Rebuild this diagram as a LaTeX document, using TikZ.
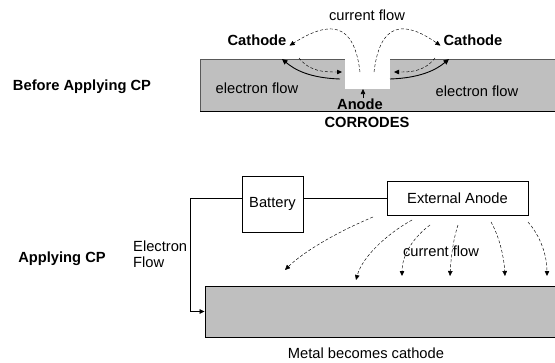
\documentclass[tikz,border=0pt]{standalone}
\usepackage{fontspec}
\setmainfont{Liberation Sans}
\usepackage{tikz}
\usetikzlibrary{positioning,arrows.meta,calc}

\begin{document}
\begin{tikzpicture}[x=1pt,y=-1pt,font=\fontsize{14.7}{16.5}\selectfont,
  lbl/.style={inner sep=0pt},
  bold/.style={lbl, font=\fontsize{14.7}{16.5}\selectfont\bfseries},
  cur/.style={densely dashed, line width=0.45pt, -{Triangle[length=5pt,width=4.5pt]}},
  elec/.style={line width=0.9pt, -{Triangle[length=5.5pt,width=5pt]}},
  box/.style={draw, line width=0.7pt, inner sep=0pt},
  metalfill/.style={fill=black!25}]
\useasboundingbox (0,0) rectangle (555,362);
% Upper sketch: metal with a pit, before CP
\fill[metalfill] (200,59) rectangle (560,111);
\draw[black!65, line width=0.9pt] (560,59) -- (200,59) -- (200,111);
\draw[line width=0.9pt] (200,111) -- (560,111);
\fill[white] (345,58) rectangle (390,89);
\node[bold] (before) at (82,87) {Before Applying CP};
\node[lbl] (curtop) at (367,15) {current flow};
\node[bold] (cathL) at (257,40) {Cathode};
\node[bold] (cathR) at (473,40) {Cathode};
\node[lbl] (eflowL) at (257,88) {electron flow};
\node[lbl] (eflowR) at (477,91) {electron flow};
\node[bold] (anode) at (360,104) {Anode};
\node[bold] (corr) at (367,122) {CORRODES};
\coordinate (pit) at (363,89);
\coordinate (pitL) at (360,72);
\coordinate (pitR) at (374,72);
\coordinate (wallL) at (342,72);
\coordinate (wallR) at (394,72);
\coordinate (surfL) at (299,58);
\coordinate (surfR) at (435,58);
\coordinate (tipL) at (282,59);
\coordinate (tipR) at (449,59);
\coordinate (exitL) at (340,79);
\coordinate (exitR) at (390,79);
\draw[-{Triangle[length=5pt,width=4.5pt]}, line width=0.6pt] (363,98) -- (pit);
\draw[cur] (pitL) .. controls (354,22) and (330,20) .. ([xshift=3pt]cathL.south east);
\draw[cur] (pitR) .. controls (380,22) and (404,20) .. ([xshift=-3pt]cathR.south west);
\draw[cur] (surfL) .. controls (310,72) and (325,72) .. (wallL);
\draw[cur] (surfR) .. controls (424,72) and (410,72) .. (wallR);
\draw[elec] (exitL) .. controls (310,78) and (295,70) .. (tipL);
\draw[elec] (exitR) .. controls (420,78) and (436,70) .. (tipR);
% Lower sketch: applying CP
\node[bold] (apply) at (62,259) {Applying CP};
\node[lbl, align=left, anchor=west] (eflow) at (133,254) {Electron\\Flow};
\node[box, minimum width=61pt, minimum height=56pt] (battery) at (272.5,204) {Battery};
\node[box, minimum width=141pt, minimum height=34pt] (extanode) at (457.5,198) {External Anode};
\node[draw, line width=0.9pt, metalfill, minimum width=355pt, minimum height=51pt] (metal) at (382.5,311.5) {};
\node[lbl] (becomes) at (366,353) {Metal becomes cathode};
\node[lbl] (curbot) at (441,251) {current flow};
\coordinate (bend) at (190,198);
\draw[line width=0.7pt] (battery.east |- extanode) -- (extanode.west);
\draw[line width=0.7pt, -{Triangle[length=5pt,width=4.5pt]}] (battery.west |- extanode) -- (bend) |- (metal.west);
\draw[cur] (373,217) .. controls (330,235) and (300,255) .. (285,270);
\draw[cur] (412,220) .. controls (385,235) and (362,258) .. (356,280);
\draw[cur] (430,225) .. controls (410,240) and (402,258) .. (402,276);
\draw[cur] (458,225) .. controls (453,240) and (451,258) .. (450,276);
\draw[cur] (491,222) .. controls (500,238) and (504,258) .. (505,276);
\draw[cur] (528,222) .. controls (542,238) and (547,258) .. (547,276);
\end{tikzpicture}
\end{document}
